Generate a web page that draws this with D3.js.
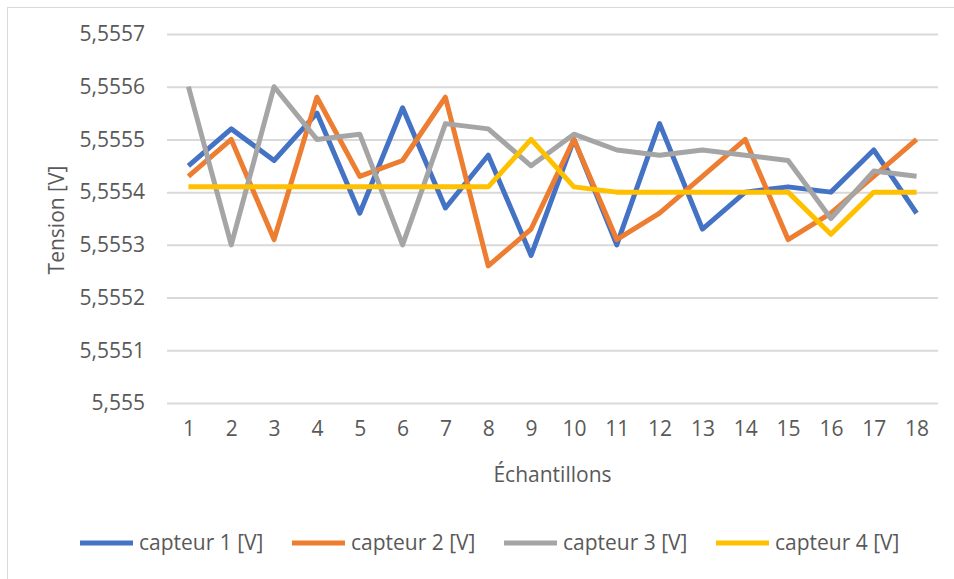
<!DOCTYPE html>
<html>
<head>
<meta charset="utf-8">
<script src="https://cdn.jsdelivr.net/npm/d3@7"></script>
<style>
  body { margin: 0; background: #fff; }
  svg text { font-family: "Open Sans", sans-serif; fill: #595959; }
  .grid line { stroke: #d9d9d9; stroke-width: 2; }
  .grid path { display: none; }
  .axis path, .axis line { display: none; }
  .serie { fill: none; stroke-width: 5; stroke-linejoin: round; }
</style>
</head>
<body>
<div id="chart"></div>
<script>
// Données
const echantillons = [1, 2, 3, 4, 5, 6, 7, 8, 9, 10, 11, 12, 13, 14, 15, 16, 17, 18];
const capteur1 = [5.55545, 5.55552, 5.55546, 5.55555, 5.55536, 5.55556, 5.55537, 5.55547, 5.55528, 5.5555, 5.5553, 5.55553, 5.55533, 5.5554, 5.55541, 5.5554, 5.55548, 5.55536];
const capteur2 = [5.55543, 5.5555, 5.55531, 5.55558, 5.55543, 5.55546, 5.55558, 5.55526, 5.55533, 5.5555, 5.55531, 5.55536, 5.55543, 5.5555, 5.55531, 5.55536, 5.55543, 5.5555];
const capteur3 = [5.5556, 5.5553, 5.5556, 5.5555, 5.55551, 5.5553, 5.55553, 5.55552, 5.55545, 5.55551, 5.55548, 5.55547, 5.55548, 5.55547, 5.55546, 5.55535, 5.55544, 5.55543];
const capteur4 = [5.55541, 5.55541, 5.55541, 5.55541, 5.55541, 5.55541, 5.55541, 5.55541, 5.5555, 5.55541, 5.5554, 5.5554, 5.5554, 5.5554, 5.5554, 5.55532, 5.5554, 5.5554];
const yTicks = [5.555, 5.5551, 5.5552, 5.5553, 5.5554, 5.5555, 5.5556, 5.5557];
const noms = ['capteur 1 [V]', 'capteur 2 [V]', 'capteur 3 [V]', 'capteur 4 [V]'];
const couleurs = ['#4472C4', '#ED7D31', '#A5A5A5', '#FFC000'];

const series = [capteur1, capteur2, capteur3, capteur4];

const W = 954, H = 579;
const plot = { left: 167, right: 938, top: 34, bottom: 403 };

const svg = d3.select('#chart').append('svg')
  .attr('width', W).attr('height', H);

// cadre du graphique
svg.append('rect')
  .attr('x', 7.5).attr('y', 7.5)
  .attr('width', W + 20).attr('height', H + 20)
  .attr('fill', 'none').attr('stroke', '#d9d9d9');

const x = d3.scalePoint()
  .domain(echantillons)
  .range([plot.left, plot.right])
  .padding(0.5);

const y = d3.scaleLinear()
  .domain([5.555, 5.5557])
  .range([plot.bottom, plot.top]);

const fr = d3.formatLocale({ decimal: ',', thousands: ' ', grouping: [3], currency: ['', '€'] });
const fmt = fr.format('.4~f');

// grille horizontale
svg.append('g').attr('class', 'grid')
  .attr('transform', `translate(${plot.left},0)`)
  .call(d3.axisLeft(y).tickValues(yTicks).tickSize(-(plot.right - plot.left)).tickFormat(''));

// axe Y
svg.append('g').attr('class', 'axis')
  .attr('transform', `translate(${plot.left},0)`)
  .call(d3.axisLeft(y).tickValues(yTicks).tickSize(0).tickPadding(22).tickFormat(fmt))
  .selectAll('text').style('font-size', '21px');

// axe X
svg.append('g').attr('class', 'axis')
  .attr('transform', `translate(0,${plot.bottom})`)
  .call(d3.axisBottom(x).tickSize(0).tickPadding(18))
  .selectAll('text').style('font-size', '21px');

// titres des axes
svg.append('text')
  .attr('x', (plot.left + plot.right) / 2).attr('y', 482)
  .attr('text-anchor', 'middle').style('font-size', '21px')
  .text('Échantillons');

svg.append('text')
  .attr('transform', 'translate(64,220) rotate(-90)')
  .attr('text-anchor', 'middle').style('font-size', '21px')
  .text('Tension [V]');

// courbes
const line = d3.line()
  .x((d, i) => x(echantillons[i]))
  .y(d => y(d));

series.forEach((s, i) => {
  svg.append('path')
    .datum(s)
    .attr('class', 'serie')
    .attr('stroke', couleurs[i])
    .attr('d', line);
});

// légende
const legende = svg.append('g').attr('transform', 'translate(80,543)');
noms.forEach((n, i) => {
  const g = legende.append('g').attr('transform', `translate(${i * 212},0)`);
  g.append('line')
    .attr('x1', 0).attr('x2', 53)
    .attr('stroke', couleurs[i]).attr('stroke-width', 5);
  g.append('text')
    .attr('x', 59).attr('dy', '0.35em')
    .style('font-size', '21px')
    .text(n);
});
</script>
</body>
</html>
